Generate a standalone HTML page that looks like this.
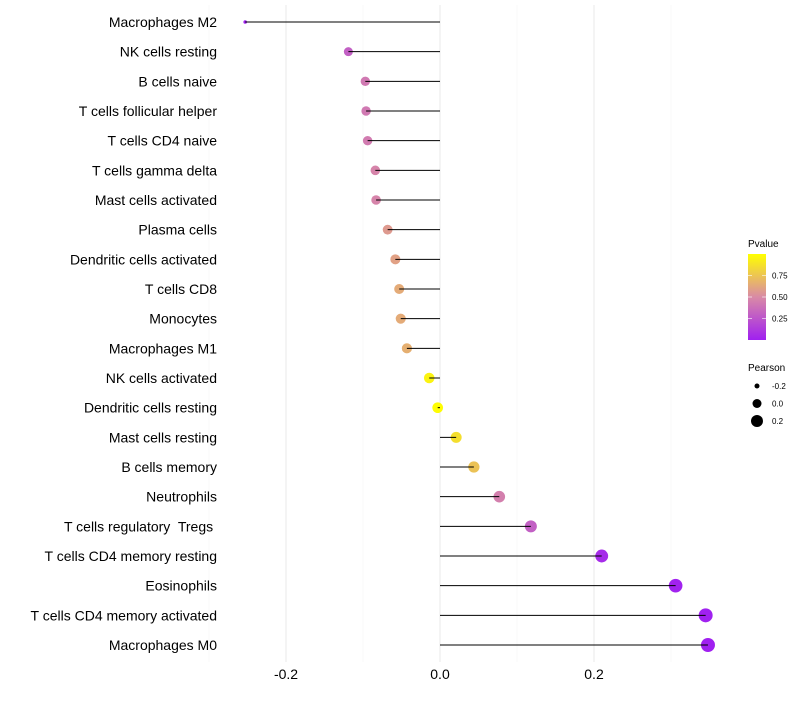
<!DOCTYPE html>
<html><head><meta charset="utf-8"><style>
body{margin:0;background:#fff;font-family:"Liberation Sans",sans-serif;}
svg text{font-family:"Liberation Sans",sans-serif;white-space:pre;}
</style></head><body>
<svg id="chart" width="800" height="700" xmlns="http://www.w3.org/2000/svg">
<defs><linearGradient id="pg" x1="0" y1="1" x2="0" y2="0">
<stop offset="0" stop-color="#a020f0"/><stop offset="0.5" stop-color="#d98aa6"/><stop offset="1" stop-color="#ffff00"/></linearGradient></defs>
<g id="grid"></g>
<g id="dots"></g>
<g id="marks"></g>
<g id="axes"></g>
<g>
<text x="748" y="247" font-size="10" fill="#000">Pvalue</text>
<rect x="748" y="254" width="18" height="86" fill="url(#pg)"/>
<g id="cbticks"></g>
</g>
<g>
<text x="748" y="371" font-size="10" fill="#000">Pearson</text>
<g id="sizeleg"></g>
</g>
</svg>
<script>
const categories=["Macrophages M2","NK cells resting","B cells naive","T cells follicular helper","T cells CD4 naive","T cells gamma delta","Mast cells activated","Plasma cells","Dendritic cells activated","T cells CD8","Monocytes","Macrophages M1","NK cells activated","Dendritic cells resting","Mast cells resting","B cells memory","Neutrophils","T cells regulatory  Tregs ","T cells CD4 memory resting","Eosinophils","T cells CD4 memory activated","Macrophages M0"];
const pearson=[-0.253,-0.119,-0.097,-0.096,-0.094,-0.084,-0.083,-0.068,-0.058,-0.053,-0.051,-0.043,-0.014,-0.003,0.021,0.044,0.077,0.118,0.210,0.306,0.345,0.348];
const pvalues=[0.0,0.3,0.42,0.42,0.43,0.47,0.47,0.57,0.6,0.64,0.64,0.66,0.95,0.99,0.86,0.74,0.45,0.3,0.05,0.01,0.003,0.002];
const xTicks=[-0.2,0.0,0.2];
const xTickLabels=["-0.2","0.0","0.2"];
const cbTicks=[0.25,0.5,0.75];
const sizeLegend=[-0.2,0.0,0.2];
const NS="http://www.w3.org/2000/svg";
const X=v=>440+v*770;
const Y=i=>22+i*(623/21);
const pMin=Math.min(...pearson),pMax=Math.max(...pearson);
const R=v=>1.8+5.2*Math.pow(Math.max(0,(v-pMin)/(pMax-pMin)),0.437);
function lerp(a,b,t){return a.map((x,i)=>Math.round(x+(b[i]-x)*t));}
function col(p){const s=[[160,32,240],[217,138,166],[255,255,0]];const c=p<0.5?lerp(s[0],s[1],p/0.5):lerp(s[1],s[2],(p-0.5)/0.5);return `rgb(${c})`;}
function mk(tag,at,par){const e=document.createElementNS(NS,tag);for(const k in at)e.setAttribute(k,at[k]);document.getElementById(par).appendChild(e);return e;}
[-0.3,-0.1,0.1,0.3].forEach(v=>{const l=mk('line',{x1:X(v),x2:X(v),y1:5,y2:662,stroke:'#f3f3f3','stroke-width':0.6},'grid');

});
xTicks.forEach((v,i)=>{const l=mk('line',{x1:X(v),x2:X(v),y1:5,y2:662,stroke:'#ebebeb','stroke-width':1.1},'grid');


const t=mk('text',{x:X(v),y:679,'font-size':14,'text-anchor':'middle',fill:'#000'},'axes');t.textContent=xTickLabels[i];

});
categories.forEach((c,i)=>{const y=Y(i);
const t=mk('text',{x:217,y:y+5,'font-size':14,'text-anchor':'end',fill:'#000'},'axes');t.textContent=c;


const d=mk('circle',{cx:X(pearson[i]),cy:y,r:R(pearson[i]),fill:col(pvalues[i])},'dots');


const l=mk('line',{x1:X(0),x2:X(pearson[i]),y1:y,y2:y,stroke:'#000','stroke-width':1},'marks');

});
cbTicks.forEach(p=>{const y=340-p*86;
const t=mk('text',{x:772,y:y+3,'font-size':8,fill:'#000'},'cbticks');t.textContent=p.toFixed(2);


const l=mk('line',{x1:748,x2:752,y1:y,y2:y,stroke:'#fff','stroke-width':0.6},'cbticks');


const l2=mk('line',{x1:762,x2:766,y1:y,y2:y,stroke:'#fff','stroke-width':0.6},'cbticks');

});
const legR=[2.5,4.5,6];
sizeLegend.forEach((v,i)=>{const y=386+i*17.5;
const c=mk('circle',{cx:757,cy:y,r:legR[i],fill:'#000'},'sizeleg');


const t=mk('text',{x:772,y:y+3,'font-size':8,fill:'#000'},'sizeleg');t.textContent=v.toFixed(1);

});
</script>
</body></html>
